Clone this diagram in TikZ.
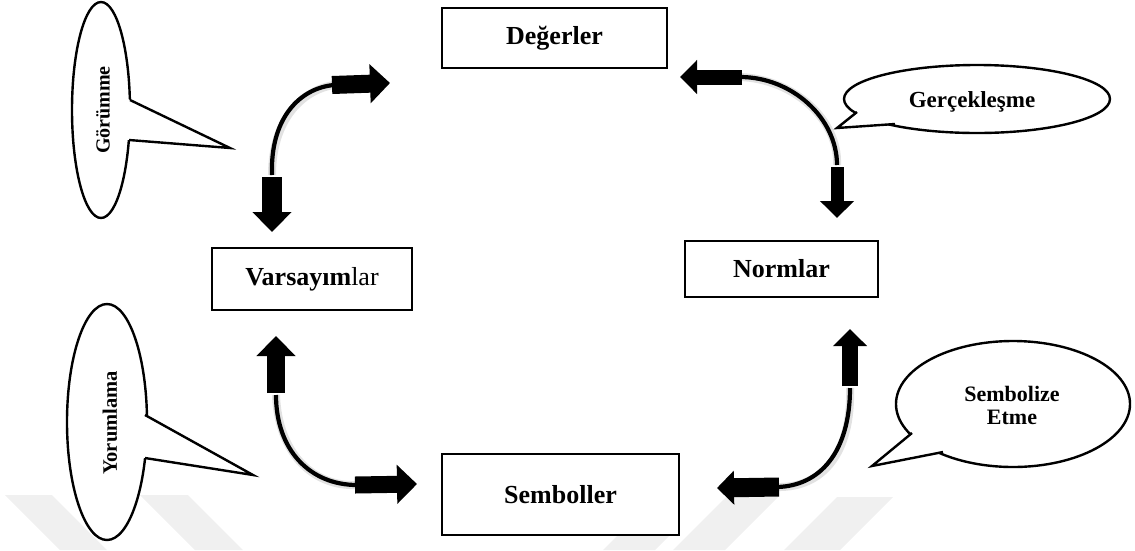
\documentclass[tikz,border=0pt]{standalone}
\usepackage{fontspec}
\setmainfont{Liberation Serif}
\usepackage{graphicx}
\usetikzlibrary{arrows.meta,calc,shapes.geometric}

\begin{document}
\begin{tikzpicture}[x=1pt,y=-1pt,
  box/.style={draw,line width=2.6pt,fill=white,inner sep=0pt,
    font=\fontsize{26}{30}\selectfont\bfseries},
  balloon/.style={draw,line width=2.4pt,fill=white},
  balline/.style={line width=2.4pt,line join=miter},
  arc/.style={line width=4.2pt},
  arcshadow/.style={line width=8pt,black!25,opacity=0.45},
  blk/.style={line width=#1pt,-{Triangle[width=38pt,length=20pt]}},
  blkthin/.style={line width=#1pt,-{Triangle[width=33pt,length=17pt]}},
  wmark/.style={fill=black!6}]
\useasboundingbox (0,0) rectangle (1135,550);

% faint background stripes
\fill[wmark] (5,495) -- (52,495) -- (107,550) -- (60,550) -- cycle;
\fill[wmark] (140,495) -- (188,495) -- (243,550) -- (195,550) -- cycle;
\fill[wmark] (837,497) -- (893,497) -- (840,550) -- (784,550) -- cycle;
\fill[wmark] (726,497) -- (778,497) -- (725,550) -- (673,550) -- cycle;
\fill[wmark] (628,525) -- (680,525) -- (655,550) -- (603,550) -- cycle;

% boxes
\node[box,minimum width=225pt,minimum height=60pt] (deg) at (554.5,38) {Değerler};
\node[box,minimum width=200pt,minimum height=62pt] (var) at (312,279)
  {Varsayım\mdseries lar};
\node[box,minimum width=193pt,minimum height=56pt] (nor) at (781.5,269) {Normlar};
\node[box,minimum width=237pt,minimum height=81pt] (sem) at (560.5,494.5) {Semboller};

% balloon: Görümme
\node[balloon,ellipse,minimum width=58pt,minimum height=216pt,inner sep=0pt]
  (gor) at (101,110) {};
\coordinate (gorA) at (130,100);
\coordinate (gorB) at (129,140);
\coordinate (gorT) at (230,148);
\fill[white] ($(gorT)!1.12!(gorA)$) -- (gorT) -- ($(gorT)!1.12!(gorB)$) -- cycle;
\draw[balline] (gorA) -- (gorT) -- (gorB);
\node[rotate=90,font=\fontsize{20}{24}\selectfont\bfseries] (gorL) at (103,110) {Görümme};

% balloon: Yorumlama
\node[balloon,ellipse,minimum width=80pt,minimum height=236pt,inner sep=0pt]
  (yor) at (107,422) {};
\coordinate (yorA) at (145,415);
\coordinate (yorB) at (145,458);
\coordinate (yorT) at (253,475);
\fill[white] ($(yorT)!1.12!(yorA)$) -- (yorT) -- ($(yorT)!1.12!(yorB)$) -- cycle;
\draw[balline] (yorA) -- (yorT) -- (yorB);
\node[rotate=90,font=\fontsize{20.5}{24}\selectfont\bfseries] (yorL) at (110,423) {Yorumlama};

% balloon: Gerçekleşme
\node[balloon,ellipse,minimum width=266pt,minimum height=68pt,inner sep=0pt]
  (ger) at (977,99) {};
\coordinate (gerA) at (857,112);
\coordinate (gerB) at (895,124);
\coordinate (gerT) at (837,128);
\fill[white] ($(gerT)!1.15!(gerA)$) -- (gerT) -- ($(gerT)!1.15!(gerB)$) -- cycle;
\draw[balline] (gerA) -- (gerT) -- (gerB);
\node[font=\fontsize{23}{26}\selectfont\bfseries] (gerL) at (972,102) {Gerçekleşme};

% balloon: Sembolize Etme
\node[balloon,ellipse,minimum width=234pt,minimum height=126pt,inner sep=0pt]
  (sym) at (1013,404) {};
\coordinate (symA) at (912,433);
\coordinate (symB) at (943,452);
\coordinate (symT) at (872,466);
\fill[white] ($(symT)!1.15!(symA)$) -- (symT) -- ($(symT)!1.15!(symB)$) -- cycle;
\draw[balline] (symA) -- (symT) -- (symB);
\node[font=\fontsize{22}{23}\selectfont\bfseries,align=center] (symL) at (1012,405)
  {Sembolize\\Etme};

% curved connectors with block heads
% Varsayımlar <-> Değerler
\coordinate (c1a) at (272,175);
\coordinate (c1b) at (334,85);
\coordinate (c1ah) at (272,232);
\coordinate (c1bh) at (390,83);
\draw[arcshadow,shift={(2,2)}] (c1a) .. controls (270,118) and (300,88) .. (c1b);
\draw[arc] (c1a) .. controls (270,118) and (300,88) .. (c1b);
\draw[blk=20] ([yshift=-2pt]c1a) -- (c1ah);
\draw[blk=18] ([xshift=-2pt]c1b) -- (c1bh);

% Değerler <-> Normlar
\coordinate (c2a) at (740,77);
\coordinate (c2b) at (837,165);
\coordinate (c2ah) at (680,77);
\coordinate (c2bh) at (837,218);
\draw[arcshadow,shift={(2,2)}] (c2a) .. controls (792,77) and (837,118) .. (c2b);
\draw[arc] (c2a) .. controls (792,77) and (837,118) .. (c2b);
\draw[blkthin=15] ([xshift=2pt]c2a) -- (c2ah);
\draw[blkthin=13] ([yshift=-2pt]c2b) -- (c2bh);

% Varsayımlar <-> Semboller
\coordinate (c3a) at (276,395);
\coordinate (c3b) at (357,485);
\coordinate (c3ah) at (276,336);
\coordinate (c3bh) at (417,484);
\draw[arcshadow,shift={(2,2)}] (c3a) .. controls (276,450) and (310,485) .. (c3b);
\draw[arc] (c3a) .. controls (276,450) and (310,485) .. (c3b);
\draw[blk=18] ([yshift=2pt]c3a) -- (c3ah);
\draw[blk=17] ([xshift=-2pt]c3b) -- (c3bh);

% Normlar <-> Semboller
\coordinate (c4a) at (850,388);
\coordinate (c4b) at (777,487);
\coordinate (c4ah) at (850,329);
\coordinate (c4bh) at (717,488);
\draw[arcshadow,shift={(2,2)}] (c4a) .. controls (850,452) and (820,486) .. (c4b);
\draw[arc] (c4a) .. controls (850,452) and (820,486) .. (c4b);
\draw[blkthin=16] ([yshift=2pt]c4a) -- (c4ah);
\draw[blkthin=19] ([xshift=2pt]c4b) -- (c4bh);
\end{tikzpicture}
\end{document}
